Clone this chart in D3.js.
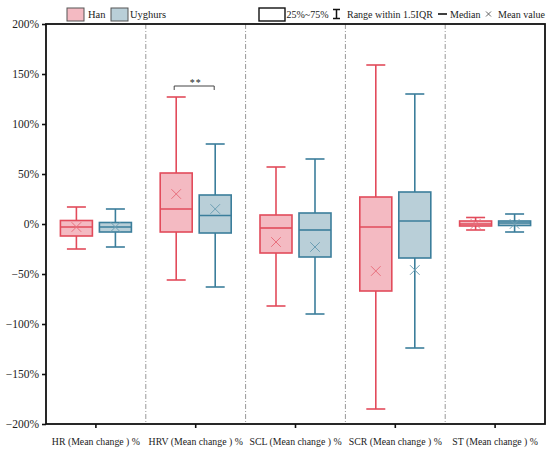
<!DOCTYPE html>
<html>
<head>
<meta charset="utf-8">
<script src="https://cdn.jsdelivr.net/npm/d3@7"></script>
<style>
  body { margin: 0; background: #fff; }
  svg text { font-family: "Liberation Serif", "DejaVu Serif", serif !important; fill: #222; }
</style>
</head>
<body>
<div id="chart"></div>
<script>
// categories and box stats (percent)
var categories = ["HR (Mean change ) %", "HRV (Mean change ) %", "SCL  (Mean change ) %", "SCR  (Mean change ) %", "ST (Mean change ) %"];
var groups = ["Han", "Uyghurs"];

var hanLow    = [-25, -56, -82, -185, -6];
var hanQ1     = [-12, -8, -29, -67, -2];
var hanMedian = [-3, 15, -4, -3, 0];
var hanQ3     = [3.5, 51, 9, 27, 3];
var hanHigh   = [17, 127, 57, 159, 6.5];
var hanMean   = [-3, 30, -18, -47, 0];

var uygLow    = [-23, -63, -90, -124, -8];
var uygQ1     = [-8, -9, -33, -34, -1.5];
var uygMedian = [-3, 8.5, -6, 3, 1];
var uygQ3     = [1.5, 29, 11, 32, 3];
var uygHigh   = [15, 80, 65, 130, 10];
var uygMean   = [-3, 15, -23, -46, 0];

var yTicks = [-200, -150, -100, -50, 0, 50, 100, 150, 200];

var colors = {
  Han: {stroke: "#e24b5b", fill: "#f4bac2", mean: "#e8707d"},
  Uyghurs: {stroke: "#3b7e9b", fill: "#b9cfd8", mean: "#6d9fb4"}
};

var w = 550, h = 452;
var margin = {top: 24, right: 5, bottom: 28, left: 46};
var innerWidth = w - margin.left - margin.right;
var innerHeight = h - margin.top - margin.bottom;
var serif = "'Liberation Serif', 'DejaVu Serif', serif";

var svg = d3.select("#chart").append("svg")
  .attr("width", w)
  .attr("height", h)
  .style("font-family", serif);

var g = svg.append("g")
  .attr("transform", `translate(${margin.left}, ${margin.top})`);

var xScale = d3.scaleBand()
  .domain(categories)
  .range([0, innerWidth]);

var yScale = d3.scaleLinear()
  .domain([-200, 200])
  .range([innerHeight, 0]);

// separators between categories
categories.slice(1).forEach(function(c) {
  g.append("line")
    .attr("x1", xScale(c)).attr("x2", xScale(c))
    .attr("y1", 0).attr("y2", innerHeight)
    .attr("stroke", "#999")
    .attr("stroke-width", 1)
    .attr("stroke-dasharray", "5,2,1,2");
});

// build rows for drawing
var rows = [];
categories.forEach(function(c, i) {
  rows.push({cat: c, grp: "Han", low: hanLow[i], q1: hanQ1[i], med: hanMedian[i], q3: hanQ3[i], high: hanHigh[i], mean: hanMean[i]});
  rows.push({cat: c, grp: "Uyghurs", low: uygLow[i], q1: uygQ1[i], med: uygMedian[i], q3: uygQ3[i], high: uygHigh[i], mean: uygMean[i]});
});

var boxW = 32, capW = 19, off = 19.5;
function cx(d) {
  return xScale(d.cat) + xScale.bandwidth() / 2 + (d.grp == "Han" ? -off : off);
}

var box = g.selectAll(".box")
  .data(rows)
  .enter().append("g")
  .attr("class", "box");

// whiskers
box.append("line")
  .attr("x1", cx).attr("x2", cx)
  .attr("y1", d => yScale(d.high)).attr("y2", d => yScale(d.low))
  .attr("stroke", d => colors[d.grp].stroke)
  .attr("stroke-width", 1.6);
box.append("line")
  .attr("x1", d => cx(d) - capW / 2).attr("x2", d => cx(d) + capW / 2)
  .attr("y1", d => yScale(d.high)).attr("y2", d => yScale(d.high))
  .attr("stroke", d => colors[d.grp].stroke)
  .attr("stroke-width", 1.6);
box.append("line")
  .attr("x1", d => cx(d) - capW / 2).attr("x2", d => cx(d) + capW / 2)
  .attr("y1", d => yScale(d.low)).attr("y2", d => yScale(d.low))
  .attr("stroke", d => colors[d.grp].stroke)
  .attr("stroke-width", 1.6);

// boxes
box.append("rect")
  .attr("x", d => cx(d) - boxW / 2)
  .attr("y", d => yScale(d.q3))
  .attr("width", boxW)
  .attr("height", d => yScale(d.q1) - yScale(d.q3))
  .attr("fill", d => colors[d.grp].fill)
  .attr("stroke", d => colors[d.grp].stroke)
  .attr("stroke-width", 1.6);

// median
box.append("line")
  .attr("x1", d => cx(d) - boxW / 2).attr("x2", d => cx(d) + boxW / 2)
  .attr("y1", d => yScale(d.med)).attr("y2", d => yScale(d.med))
  .attr("stroke", d => colors[d.grp].stroke)
  .attr("stroke-width", 1.6);

// mean markers
var ms = 4.8;
box.append("path")
  .attr("d", function(d) {
    var x = cx(d), y = yScale(d.mean);
    return `M${x - ms},${y - ms}L${x + ms},${y + ms}M${x - ms},${y + ms}L${x + ms},${y - ms}`;
  })
  .attr("stroke", d => colors[d.grp].mean)
  .attr("stroke-width", 1)
  .attr("fill", "none");

// significance bracket on HRV
var hrvHan = rows[2], hrvUyg = rows[3];
var by = yScale(138);
g.append("path")
  .attr("d", `M${cx(hrvHan) - 2},${by + 4}V${by}H${cx(hrvUyg) - 1}V${by + 4}`)
  .attr("fill", "none")
  .attr("stroke", "#444")
  .attr("stroke-width", 1);
g.append("text")
  .attr("x", (cx(hrvHan) + cx(hrvUyg)) / 2)
  .attr("y", by - 0.5)
  .attr("text-anchor", "middle")
  .style("font-size", "10px")
  .style("letter-spacing", "1px")
  .text("**");

// axes
var yAxis = d3.axisLeft(yScale)
  .tickValues(yTicks)
  .tickSize(4)
  .tickFormat(d => d3.format("d")(d) + "%");
var yg = g.append("g").call(yAxis).attr("font-family", null);
yg.select(".domain").remove();
yg.selectAll("line").attr("stroke-width", 1.6).attr("stroke", "#111");
yg.selectAll("text").style("font-size", "11.5px").attr("fill", "#222");

var xAxis = d3.axisBottom(xScale).tickSize(4).tickPadding(10);
var xg = g.append("g")
  .attr("transform", `translate(0, ${innerHeight})`)
  .call(xAxis).attr("font-family", null);
xg.select(".domain").remove();
xg.selectAll("line").attr("stroke-width", 1.6).attr("stroke", "#111");
xg.selectAll("text").style("font-size", "9.8px").attr("fill", "#222");

// frame
g.append("rect")
  .attr("x", 0).attr("y", 0)
  .attr("width", innerWidth).attr("height", innerHeight)
  .attr("fill", "none")
  .attr("stroke", "#111")
  .attr("stroke-width", 1.8);

// legend (groups)
var lg = svg.append("g");
[{name: "Han", x: 67}, {name: "Uyghurs", x: 111}].forEach(function(l) {
  lg.append("rect")
    .attr("x", l.x).attr("y", 8).attr("width", 17).attr("height", 13)
    .attr("fill", colors[l.name].fill)
    .attr("stroke", "#555").attr("stroke-width", 1);
  lg.append("text")
    .attr("x", l.x + (l.name == "Han" ? 21 : 19)).attr("y", 18)
    .style("font-size", "10.5px")
    .text(l.name);
});

// legend (symbols)
lg.append("rect")
  .attr("x", 259).attr("y", 8).attr("width", 26).attr("height", 13)
  .attr("fill", "none").attr("stroke", "#111").attr("stroke-width", 1.4);
lg.append("text").attr("x", 286.5).attr("y", 18).style("font-size", "10px").text("25%~75%");
lg.append("path")
  .attr("d", "M333,9.5H340M336.5,9.5V18.5M333,18.5H340")
  .attr("stroke", "#111").attr("stroke-width", 1.5).attr("fill", "none");
lg.append("text").attr("x", 347).attr("y", 18).style("font-size", "10px").text("Range within 1.5IQR");
lg.append("line")
  .attr("x1", 438).attr("x2", 447).attr("y1", 14).attr("y2", 14)
  .attr("stroke", "#111").attr("stroke-width", 1.6);
lg.append("text").attr("x", 450).attr("y", 18).style("font-size", "10px").text("Median");
lg.append("path")
  .attr("d", "M486,11.5L491,16.5M486,16.5L491,11.5")
  .attr("stroke", "#555").attr("stroke-width", 0.9).attr("fill", "none");
lg.append("text").attr("x", 498).attr("y", 18).style("font-size", "10px").text("Mean value");
</script>
</body>
</html>
